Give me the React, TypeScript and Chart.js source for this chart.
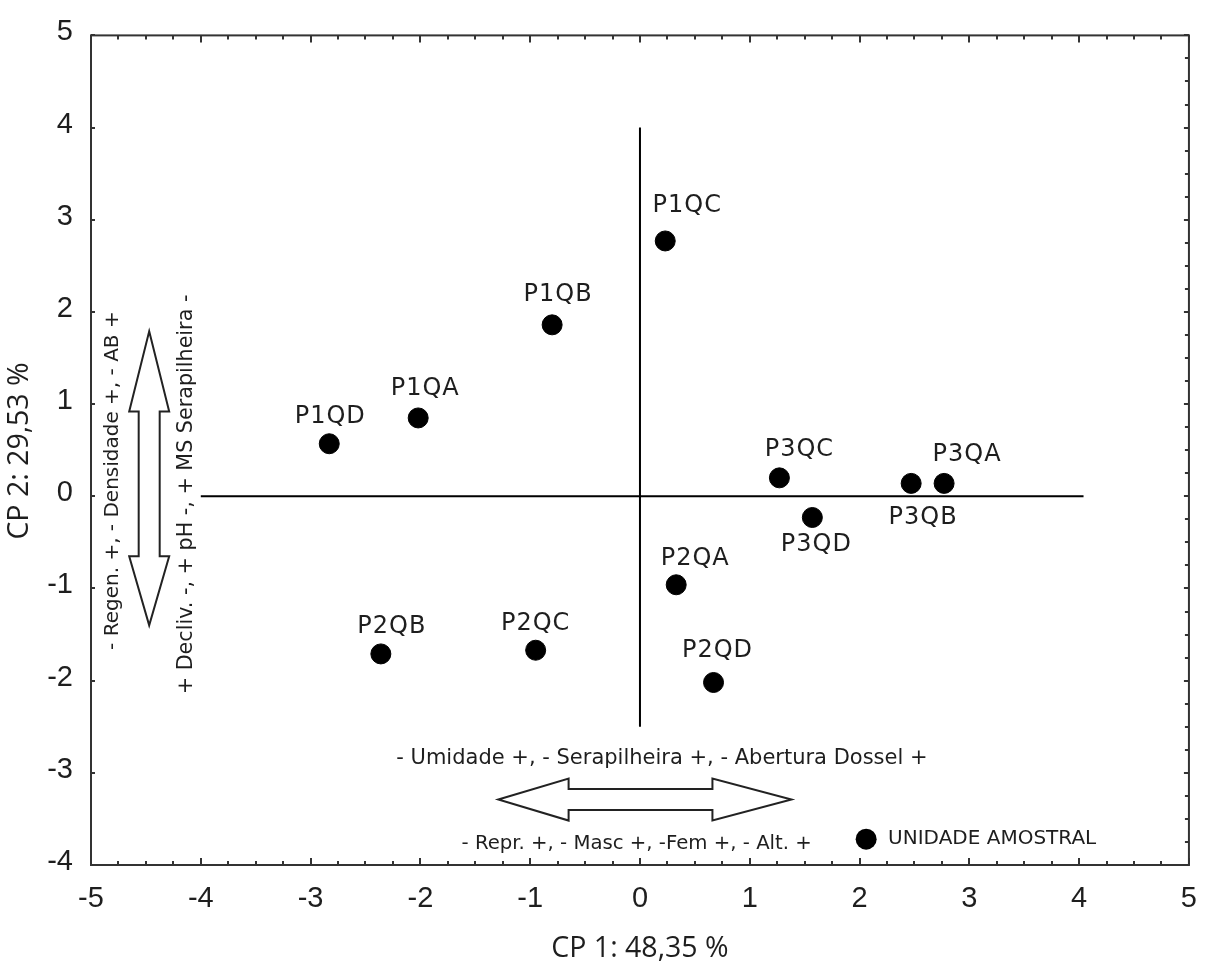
import React, { useEffect, useRef } from 'react';
import { Chart, registerables } from 'chart.js';

Chart.register(...registerables);

// ---- Data ----
const pointNames = ['P1QA', 'P1QB', 'P1QC', 'P1QD', 'P2QA', 'P2QB', 'P2QC', 'P2QD', 'P3QA', 'P3QB', 'P3QC', 'P3QD'];
const cp1Values = [-2.02, -0.8, 0.23, -2.83, 0.33, -2.36, -0.95, 0.67, 2.77, 2.47, 1.27, 1.57];
const cp2Values = [0.85, 1.86, 2.77, 0.57, -0.96, -1.71, -1.67, -2.02, 0.14, 0.14, 0.2, -0.23];
const xTickValues = [-5, -4, -3, -2, -1, 0, 1, 2, 3, 4, 5];
const yTickValues = [-4, -3, -2, -1, 0, 1, 2, 3, 4, 5];
const xAxisTitle = 'CP 1: 48,35 %';
const yAxisTitle = 'CP 2: 29,53 %';
const legendLabel = 'UNIDADE AMOSTRAL';
const horizTextTop = '- Umidade +, - Serapilheira +, - Abertura Dossel +';
const horizTextBottom = '- Repr. +, - Masc +, -Fem +, - Alt. +';
const vertTextLeft = '- Regen. +, - Densidade +, - AB +';
const vertTextRight = '+ Decliv. -, + pH -, + MS Serapilheira -';

// ---- Layout / style (pixel offsets for point labels) ----
const labelOffsets: [number, number][] = [
  [5, -29], [4, -30], [20, -35], [-1, -27],
  [17, -26], [9, -27], [-2, -26], [2, -32],
  [21, -29], [10, 34], [18, -28], [2, 27],
];

const TEXT = '#1e1e1e';
const LABEL_FONT = '24px "DejaVu Sans"';

const overlayPlugin = {
  id: 'overlay',
  beforeDatasetsDraw(chart: any) {
    const { ctx, chartArea: a, scales } = chart;
    const xs = scales.x, ys = scales.y;
    const X = (v: number) => xs.getPixelForValue(v);
    const Y = (v: number) => ys.getPixelForValue(v);
    ctx.save();
    // frame
    ctx.strokeStyle = '#333';
    ctx.lineWidth = 2;
    ctx.strokeRect(a.left, a.top, a.right - a.left, a.bottom - a.top);
    // inward ticks
    ctx.beginPath();
    for (let v = -5; v <= 5.001; v += 0.25) {
      const px = Math.round(X(v));
      const major = Math.abs(v - Math.round(v)) < 1e-6;
      const len = major ? 7 : 4;
      ctx.moveTo(px, a.bottom); ctx.lineTo(px, a.bottom - len);
      ctx.moveTo(px, a.top); ctx.lineTo(px, a.top + len);
    }
    for (let v = -4; v <= 5.001; v += 0.25) {
      const py = Math.round(Y(v));
      const major = Math.abs(v - Math.round(v)) < 1e-6;
      if (major) { ctx.moveTo(a.left, py); ctx.lineTo(a.left + 4, py); }
      ctx.moveTo(a.right, py); ctx.lineTo(a.right - (major ? 5 : 4), py);
    }
    ctx.stroke();
    // cross lines
    ctx.strokeStyle = '#000';
    ctx.lineWidth = 2;
    ctx.beginPath();
    ctx.moveTo(X(0), Y(4)); ctx.lineTo(X(0), Y(-2.5));
    ctx.moveTo(X(-4), Y(0)); ctx.lineTo(X(4.04), Y(0));
    ctx.stroke();

    // vertical double arrow
    const vx = X(-4.47);
    const hw = 20, sw = 10.5;
    const t1 = Y(1.79), b1 = Y(0.92), b2 = Y(-0.65), t2 = Y(-1.4);
    ctx.beginPath();
    ctx.moveTo(vx, t1);
    ctx.lineTo(vx + hw, b1); ctx.lineTo(vx + sw, b1); ctx.lineTo(vx + sw, b2); ctx.lineTo(vx + hw, b2);
    ctx.lineTo(vx, t2);
    ctx.lineTo(vx - hw, b2); ctx.lineTo(vx - sw, b2); ctx.lineTo(vx - sw, b1); ctx.lineTo(vx - hw, b1);
    ctx.closePath();
    ctx.fillStyle = '#fff'; ctx.fill();
    ctx.strokeStyle = '#222'; ctx.lineWidth = 2; ctx.stroke();

    // horizontal double arrow
    const hy = Y(-3.29);
    const hh = 21, sh = 10.5;
    const l1 = X(-1.29), lb = X(-0.65), rb = X(0.66), r1 = X(1.38);
    ctx.beginPath();
    ctx.moveTo(l1, hy);
    ctx.lineTo(lb, hy - hh); ctx.lineTo(lb, hy - sh); ctx.lineTo(rb, hy - sh); ctx.lineTo(rb, hy - hh);
    ctx.lineTo(r1, hy);
    ctx.lineTo(rb, hy + hh); ctx.lineTo(rb, hy + sh); ctx.lineTo(lb, hy + sh); ctx.lineTo(lb, hy + hh);
    ctx.closePath();
    ctx.fillStyle = '#fff'; ctx.fill();
    ctx.stroke();

    // annotation texts
    ctx.fillStyle = TEXT;
    ctx.textAlign = 'center';
    ctx.textBaseline = 'middle';
    ctx.font = '21px "DejaVu Sans"';
    ctx.fillText(horizTextTop, X(0.2), Y(-2.845));
    ctx.font = '19.7px "DejaVu Sans"';
    ctx.fillText(horizTextBottom, X(-0.03), Y(-3.77));

    ctx.font = '20px "DejaVu Sans"';
    ctx.save();
    ctx.translate(X(-4.8), Y(0.17));
    ctx.rotate(-Math.PI / 2);
    ctx.fillText(vertTextLeft, 0, 0);
    ctx.restore();
    ctx.font = '20.7px "DejaVu Sans"';
    ctx.save();
    ctx.translate(X(-4.13), Y(0.02));
    ctx.rotate(-Math.PI / 2);
    ctx.fillText(vertTextRight, 0, 0);
    ctx.restore();

    // legend
    ctx.beginPath();
    ctx.arc(X(2.06), Y(-3.72), 10.5, 0, Math.PI * 2);
    ctx.fillStyle = '#000';
    ctx.fill();
    ctx.fillStyle = TEXT;
    ctx.font = '20px "DejaVu Sans"';
    ctx.textAlign = 'left';
    ctx.fillText(legendLabel, X(2.26), Y(-3.72));

    // axis titles
    ctx.font = '28.5px "Open Sans"';
    ctx.textAlign = 'center';
    ctx.fillText(xAxisTitle, (a.left + a.right) / 2, 949);
    ctx.save();
    ctx.translate(20, 451);
    ctx.rotate(-Math.PI / 2);
    ctx.fillText(yAxisTitle, 0, 0);
    ctx.restore();
    ctx.restore();
  },
  afterDatasetsDraw(chart: any) {
    const { ctx } = chart;
    const meta = chart.getDatasetMeta(0);
    ctx.save();
    ctx.fillStyle = TEXT;
    ctx.font = LABEL_FONT;
    try { (ctx as any).letterSpacing = '1px'; } catch (e) { /* ignore */ }
    ctx.textAlign = 'center';
    ctx.textBaseline = 'middle';
    meta.data.forEach((el: any, i: number) => {
      const [dx, dy] = labelOffsets[i];
      ctx.fillText(pointNames[i], el.x + dx + 2, el.y + dy);
    });
    try { (ctx as any).letterSpacing = '0px'; } catch (e) { /* ignore */ }
    ctx.restore();
  },
};

export default function App() {
  const ref = useRef<HTMLCanvasElement>(null);
  useEffect(() => {
    const canvas = ref.current!;
    const chart = new Chart(canvas, {
      type: 'scatter',
      data: {
        datasets: [
          {
            label: legendLabel,
            data: cp1Values.map((x, i) => ({ x, y: cp2Values[i] })),
            backgroundColor: '#000',
            borderColor: '#000',
            borderWidth: 1,
            pointRadius: 10,
            pointHoverRadius: 10,
          },
        ],
      },
      options: {
        responsive: false,
        animation: false,
        events: [],
        layout: { padding: { top: 30, right: 25, left: 0, bottom: 0 } },
        plugins: { legend: { display: false }, tooltip: { enabled: false } },
        scales: {
          x: {
            type: 'linear',
            min: -5,
            max: 5,
            afterBuildTicks: (s: any) => { s.ticks = xTickValues.map((v) => ({ value: v })); },
            ticks: {
              font: { family: 'Liberation Sans', size: 29 },
              color: TEXT,
              padding: 17,
              maxRotation: 0,
              autoSkip: false,
              callback: (v: any) => String(v),
            },
            grid: { display: false, drawTicks: false },
            border: { display: false },
            afterFit: (s: any) => { s.height = 98; },
          },
          y: {
            type: 'linear',
            min: -4,
            max: 5,
            afterBuildTicks: (s: any) => { s.ticks = yTickValues.map((v) => ({ value: v })); },
            ticks: {
              font: { family: 'Liberation Sans', size: 29 },
              color: TEXT,
              padding: 18,
              labelOffset: -3,
              autoSkip: false,
              callback: (v: any) => String(v),
            },
            grid: { display: false, drawTicks: false },
            border: { display: false },
            afterFit: (s: any) => { s.width = 91; },
          },
        },
      },
      plugins: [overlayPlugin],
    });
    return () => chart.destroy();
  }, []);
  return (
    <div style={{ position: 'absolute', left: 0, top: 0, width: 1214, height: 963, background: '#fff' }}>
      <canvas ref={ref} width={1214} height={963} style={{ display: 'block' }} />
    </div>
  );
}
